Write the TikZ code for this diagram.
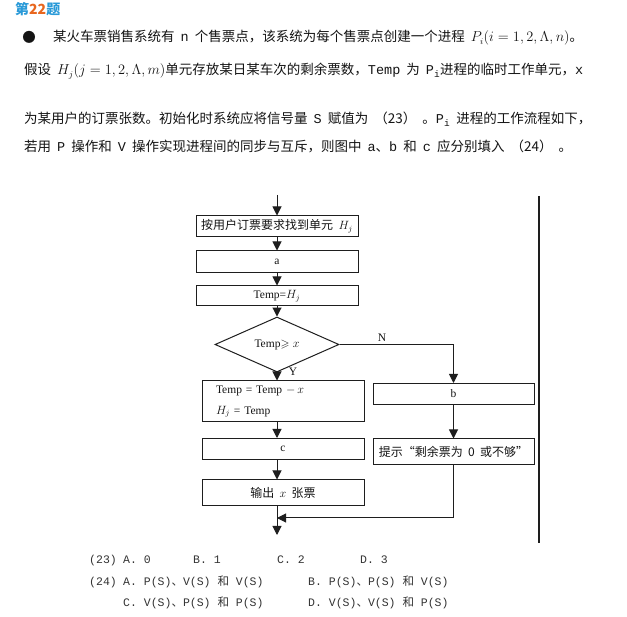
\documentclass[tikz,border=0pt]{standalone}
\usepackage{amssymb}
\usepackage{fontspec}
\setmainfont{Noto Sans CJK SC}[WordSpace=2]
\setmonofont{Liberation Mono}
\newfontfamily\serifl{Liberation Serif}
\usetikzlibrary{arrows.meta,shapes.geometric}
\definecolor{ink}{HTML}{141414}
\definecolor{rule}{HTML}{1E1E1E}
\definecolor{optInk}{HTML}{333333}
\definecolor{titleBlue}{HTML}{2A9AD8}
\definecolor{titleOrange}{HTML}{E8661E}
\newcommand{\zh}[1]{{\rmfamily #1}}
\tikzset{
  t/.style={inner sep=0pt, anchor=base west, font=\fontsize{13.5}{16}\selectfont, text=ink},
  opt/.style={inner sep=0pt, anchor=base west, font=\ttfamily\fontsize{11.5}{14}\selectfont, text=optInk},
  box/.style={draw=rule, line width=1pt, minimum width=162pt, minimum height=#1, inner sep=0pt, font=\fontsize{12}{14}\selectfont, text=ink},
  box/.default=21pt,
  test/.style={diamond, draw=rule, line width=1pt, minimum width=124pt, minimum height=41pt, inner sep=0pt, font=\serifl\fontsize{11.5}{13}\selectfont, text=ink},
  lbl/.style={inner sep=0pt, font=\serifl\fontsize{11.5}{13}\selectfont, text=ink},
  flow/.style={draw=rule, line width=1pt, -{Triangle[length=9pt,width=9pt]}},
  rail/.style={draw=rule, line width=1.4pt},
}
\begin{document}
\begin{tikzpicture}[x=1pt, y=-1pt]
  \fill[white] (0,0) rectangle (627,617);
  \useasboundingbox (0,0) rectangle (627,617);

  % question text
  \node[t, font=\bfseries\fontsize{14}{16}\selectfont, text=titleBlue] (title) at (15,15) {第{\color{titleOrange}22}题};
  \node[t, anchor=center] (dot) at (29,37) {●};
  \node[t] (line1) at (53,42) {某火车票销售系统有 \texttt{n} 个售票点，该系统为每个售票点创建一个进程 $P_i(i=1,2,\Lambda,n)$。};
  \node[t] (line2) at (24,75) {假设 $H_j(j=1,2,\Lambda,m)$单元存放某日某车次的剩余票数，\texttt{Temp} 为 \texttt{P\textsubscript{i}}进程的临时工作单元，\texttt{x}};
  \node[t] (line3) at (24,124) {为某用户的订票张数。初始化时系统应将信号量 \texttt{S} 赋值为 （23） 。\texttt{P\textsubscript{i}} 进程的工作流程如下，};
  \node[t] (line4) at (24,152) {若用 \texttt{P} 操作和 \texttt{V} 操作实现进程间的同步与互斥，则图中 \texttt{a}、\texttt{b} 和 \texttt{c} 应分别填入 （24） 。};

  % flow chart
  \node[box] (find) at (277,226.5) {按用户订票要求找到单元 $H_j$};
  \node[box=22pt, font=\serifl\fontsize{11.5}{13}\selectfont] (opa) at (277,262) {a};
  \node[box=20pt, font=\serifl\fontsize{11.5}{13}\selectfont] (tmp) at (277,296) {Temp=$H_j$};
  \node[test] (dec) at (277,344.5) {Temp$\geqslant x$};
  \node[box=41pt, font=\serifl\fontsize{11.5}{21}\selectfont, align=left, text width=134pt] (upd) at (283,401.5) {Temp = Temp $-\,x$\\$H_j$ = Temp};
  \node[box, font=\serifl\fontsize{11.5}{13}\selectfont] (opc) at (283,449) {c};
  \node[box=26pt] (out) at (283,493) {输出 $x$ 张票};
  \node[box, minimum width=161pt, font=\serifl\fontsize{11.5}{13}\selectfont] (opb) at (453.5,394) {b};
  \node[box=26pt, minimum width=161pt] (tip) at (453.5,452) {提示“剩余票为 0 或不够”};
  \node[lbl] (no) at (382,338) {N};
  \node[lbl] (yes) at (293,372) {Y};

  \coordinate (entry) at (277,195);
  \coordinate (merge) at (277,518);
  \coordinate (exit) at (277,535);
  \draw[flow] (entry) -- (find.north);
  \draw[flow] (find) -- (opa);
  \draw[flow] (opa) -- (tmp);
  \draw[flow] (tmp) -- (dec);
  \draw[flow] (dec.south) -- (dec.south |- upd.north);
  \draw[flow] (dec.south |- upd.south) -- (dec.south |- opc.north);
  \draw[flow] (dec.south |- opc.south) -- (dec.south |- out.north);
  \draw[flow] (dec.south |- out.south) -- (exit);
  \draw[flow] (dec.east) -| (opb.north);
  \draw[flow] (opb) -- (tip);
  \draw[flow] (tip.south) |- (merge);

  \coordinate (railtop) at (539,196);
  \coordinate (railend) at (539,543);
  \draw[rail] (railtop) -- (railend);

  % options
  \node[opt] (q23) at (89,563) {(23)};
  \node[opt] (q23a) at (123,563) {A. 0};
  \node[opt] (q23b) at (193,563) {B. 1};
  \node[opt] (q23c) at (277,563) {C. 2};
  \node[opt] (q23d) at (360,563) {D. 3};
  \node[opt] (q24) at (89,586) {(24)};
  \node[opt] (q24a) at (123,586) {A. P(S)\zh{、}V(S) \zh{和} V(S)};
  \node[opt] (q24b) at (308,586) {B. P(S)\zh{、}P(S) \zh{和} V(S)};
  \node[opt] (q24c) at (123,606) {C. V(S)\zh{、}P(S) \zh{和} P(S)};
  \node[opt] (q24d) at (308,606) {D. V(S)\zh{、}V(S) \zh{和} P(S)};
\end{tikzpicture}
\end{document}
